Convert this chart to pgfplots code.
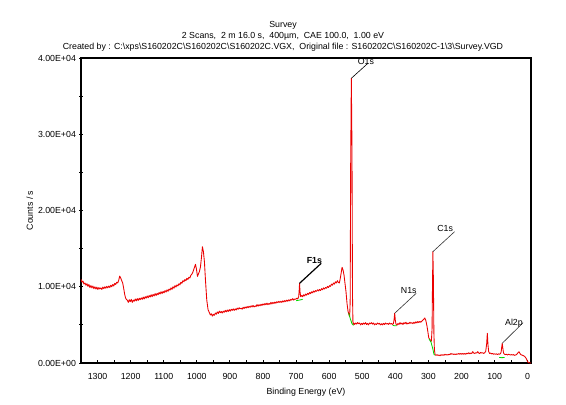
\documentclass[border=0pt]{standalone}
\usepackage{fontspec}
\setmainfont{Liberation Sans}
\usepackage{pgfplots}
\pgfplotsset{compat=1.18}
\definecolor{specred}{RGB}{235,0,0}
\definecolor{bggreen}{RGB}{0,215,0}
\newcommand{\sm}{\fontsize{6.6}{8}\selectfont}
\begin{document}
\begin{tikzpicture}
\begin{axis}[
  at={(0pt,0pt)}, anchor=south west,
  scale only axis, width=337.5pt, height=228.75pt,
  x dir=reverse, xmin=-10, xmax=1350, ymin=0, ymax=40000,
  axis line style={line width=0.85pt},
  every tick/.style={black, line width=0.6pt},
  major tick length=2.6pt, minor tick length=2.6pt,
  xtick align=inside, ytick align=center,
  tick pos=left,
  xtick={0,100,...,1300}, minor x tick num=1,
  ytick={0,10000,20000,30000,40000}, minor y tick num=1,
  yticklabels={0.00E+00,1.00E+04,2.00E+04,3.00E+04,4.00E+04},
  scaled y ticks=false, scaled x ticks=false,
  /pgf/number format/assume math mode=true,
  /pgf/number format/1000 sep={},
  tick label style={font=\sm},
  xticklabel style={anchor=base, yshift=-12.6pt},
  yticklabel style={anchor=east, inner sep=0pt, xshift=-2.3pt},
  clip=true,
]
\addplot[specred, line width=0.65pt, line join=round] coordinates {
(1350,10980)(1347,10600)(1344,10750)(1341,10350)(1338,10500)(1335,10200)(1332,10400)(1329,10050)
(1326,10300)(1323,9900)(1320,10150)(1317,9850)(1314,10100)(1311,9750)(1308,10000)(1305,9700)
(1302,9950)(1299,9650)(1296,9900)(1293,9700)(1290,9850)(1287,9650)(1284,9950)(1281,9750)
(1278,10000)(1275,9800)(1272,10050)(1269,9850)(1266,10100)(1263,9900)(1260,10200)(1257,10000)
(1254,10300)(1251,10100)(1248,10450)(1245,10300)(1242,10600)(1239,10500)(1236,10850)(1233,11400)
(1230,11150)(1227,10800)(1224,10500)(1221,9800)(1218,9000)(1215,8500)(1212,8300)
(1210,8250)(1207,7950)(1204,8300)(1201,8050)(1198,8350)(1195,7950)(1192,8250)(1189,8100)
(1186,8400)(1183,8150)(1180,8450)(1177,8200)(1174,8500)(1171,8300)(1168,8550)(1165,8350)
(1162,8650)(1159,8400)(1156,8700)(1153,8500)(1150,8800)(1147,8550)(1144,8850)(1141,8650)
(1138,8950)(1135,8700)(1132,9000)(1129,8800)(1126,9100)(1123,8850)(1120,9150)(1117,8950)
(1114,9250)(1111,9050)(1108,9350)(1105,9100)(1102,9400)(1099,9200)(1096,9500)(1093,9300)
(1090,9600)(1087,9400)(1084,9700)(1081,9550)(1078,9850)(1075,9650)(1072,10000)(1069,9800)
(1066,10150)(1063,9950)(1060,10250)(1057,10100)(1054,10400)(1051,10250)(1048,10600)(1045,10450)
(1042,10800)(1039,10650)(1036,10950)(1033,10800)(1030,11100)(1027,10950)(1024,11250)(1021,11150)
(1018,11500)(1015,11650)(1012,11900)(1009,12300)(1006,12700)(1004,12950)(1001,12300)(998,11350)
(995,11700)(992,12000)(989,12600)(986,13800)(983,15250)(980,14600)(977,13300)
(974,11000)(970,8300)(966,7000)(962,6600)(959,6300)(956,6450)(953,6150)(950,6400)(947,6250)
(944,6550)(941,6400)(938,6700)(935,6500)(932,6800)(929,6600)(926,6750)(923,6550)(920,6800)
(917,6650)(914,6900)(911,6700)(908,6950)(905,6750)(902,7000)(899,6800)(896,7050)(893,6900)
(890,7100)(887,6900)(884,7100)(881,6950)(878,7200)(875,7050)(872,7250)(869,7100)(866,7200)
(863,7050)(860,7300)(857,7150)(854,7350)(851,7200)(848,7400)(845,7250)(842,7450)(839,7300)
(836,7500)(833,7350)(830,7550)(827,7350)(824,7500)(821,7400)(818,7650)(815,7450)(812,7650)
(809,7500)(806,7700)(803,7550)(800,7750)(797,7600)(794,7800)(791,7650)(788,7850)(785,7650)
(782,7800)(779,7700)(776,7950)(773,7750)(770,7950)(767,7800)(764,8000)(761,7850)(758,8050)
(755,7900)(752,8100)(749,7950)(746,8100)(743,7950)(740,8150)(737,8000)(734,8200)(731,8050)
(728,8250)(725,8100)(722,8300)(719,8150)(716,8350)(713,8250)(710,8450)(707,8250)(704,8400)
(701,8350)(698,8500)(695,8400)(692,8700)(690.5,9600)(689.5,10450)(688,9300)(686,8700)
(683,8850)(680,8700)(677,8950)(674,8800)(671,9050)(668,8900)(665,9150)(662,9000)(659,9250)
(656,9100)(653,9350)(650,9200)(647,9450)(644,9300)(641,9500)(638,9400)(635,9600)(632,9450)
(629,9650)(626,9500)(623,9750)(620,9600)(617,9850)(614,9700)(611,9900)(608,9800)(605,10050)
(602,9900)(599,10150)(596,10050)(593,10350)(590,10200)(587,10500)(584,10350)(581,10650)
(578,10500)(575,10800)(572,10550)(569,10500)(566,11200)(563,12000)(561,12550)(558,12200)
(555,11500)(552,10400)(549,9300)(546,7800)(543,6800)(540,6300)(538,6100)(536.5,8000)(535,26000)
(533,37340)(531,28000)(529.5,9000)(528,5000)(526,5250)(523,5050)(520,5250)(517,5100)(514,5300)
(511,5150)(508,5250)(505,5000)(502,5200)(499,5050)(496,5250)(493,5100)(490,5300)(487,5050)
(484,5200)(481,5000)(478,5250)(475,5150)(472,5300)(469,5100)(466,5250)(463,5000)(460,5150)
(457,5050)(454,5250)(451,5100)(448,5200)(445,5000)(442,5150)(439,5000)(436,5200)(433,5050)
(430,5250)(427,5100)(424,5200)(421,5050)(418,5250)(415,5100)(412,5200)(409,5050)(406,5150)
(404,5600)(402,6520)(400,5600)(398,5100)(395,4950)(392,5200)(389,5050)(386,5300)(383,5100)
(380,5250)(377,5050)(374,5300)(371,5150)(368,5350)(365,5100)(362,5250)(359,5150)(356,5350)
(353,5200)(350,5300)(347,5150)(344,5350)(341,5200)(338,5400)(335,5250)(332,5450)(329,5300)
(326,5450)(323,5350)(320,5500)(317,5600)(314,5750)(311,5900)(308,5600)(305,5000)(302,4200)
(299,3300)(295,3050)(291,2850)(289,4500)(288,9000)(286.5,14600)(285,11000)(283.5,4000)(282,1800)
(280,1100)(277,1000)(274,1100)(271,1000)(268,1050)(265,950)(262,1100)(259,1000)(256,1100)
(253,1000)(250,1150)(247,1050)(244,1100)(241,1050)(238,1150)(235,1100)(232,1250)(229,1150)
(226,1200)(223,1100)(220,1200)(217,1100)(214,1200)(211,1150)(208,1250)(205,1150)(202,1250)
(199,1150)(196,1250)(193,1150)(190,1250)(187,1150)(184,1300)(181,1200)(178,1350)(175,1200)
(172,1300)(169,1250)(166,1500)(163,1300)(160,1250)(157,1350)(154,1300)(151,1500)(148,1300)
(145,1250)(142,1400)(139,1300)(136,1350)(133,1250)(130,1350)(127,1500)(124,2500)(122,3890)
(120,2400)(118,1500)(115,1250)(112,1300)(109,1200)(106,1250)(103,1150)(100,1200)(97,1150)
(94,1200)(91,1100)(88,1200)(85,1150)(82,1250)(80,1500)(79,1900)(77,2580)(75,1900)(73,1300)
(70,1150)(67,1100)(64,1150)(61,1050)(58,1150)(55,1100)(52,1050)(49,1100)(46,1050)(43,1100)
(40,1000)(37,1050)(34,1100)(31,1250)(28,1400)(26,1480)(24,1300)(21,1100)(18,1050)(15,1000)
(12,950)(9,850)(6,700)(3,450)(0,150)(-3,50)(-6,20)(-10,0)
};
% fitted backgrounds
\addplot[bggreen, line width=0.6pt] coordinates {(700,8170)(690,8250)(680,8350)};
\addplot[bggreen, line width=0.6pt] coordinates {(541,6550)(536,5800)(531,5150)(526,4950)};
\addplot[bggreen, line width=0.6pt] coordinates {(408,4950)(402,4880)(396,4900)};
\addplot[bggreen, line width=0.6pt] coordinates {(298,3150)(292,2700)(287,1900)(283,1100)(280,1050)};
\addplot[bggreen, line width=0.6pt] coordinates {(86,720)(78,700)(70,720)};
% peak labels
\draw[line width=0.9pt] (axis cs:689.5,10450) -- (axis cs:624,13075)
  node[anchor=base east, inner sep=0pt, xshift=1pt, font=\sm\bfseries] {F1s};
\draw[line width=0.45pt] (axis cs:533,37340) -- (axis cs:483,39300);
\node[anchor=base, inner sep=0pt, font=\sm] at (axis cs:489,39150) {O1s};
\draw[line width=0.45pt, black!80] (axis cs:402,6520) -- (axis cs:337,9140)
  node[anchor=base east, inner sep=0pt, xshift=0.5pt, font=\sm, black] {N1s};
\draw[line width=0.45pt, black!80] (axis cs:286.5,14600) -- (axis cs:221,17220)
  node[anchor=base east, inner sep=0pt, xshift=-1pt, font=\sm, black] {C1s};
\draw[line width=0.45pt, black!80] (axis cs:77,2580) -- (axis cs:14,5285)
  node[anchor=base east, inner sep=0pt, yshift=-2pt, font=\sm, black] {Al2p};
\end{axis}
% titles and axis labels
\node[anchor=base, inner sep=0pt, font=\sm] at (151.5pt,251.6pt) {Survey};
\node[anchor=base, inner sep=0pt, font=\sm] at (151.5pt,243.6pt) {2 Scans,\ \ 2 m 16.0 s,\ \ 400µm,\ \ CAE 100.0,\ \ 1.00 eV};
\node[anchor=base, inner sep=0pt, font=\sm] at (151.5pt,235.0pt) {Created by : C:\textbackslash xps\textbackslash S160202C\textbackslash S160202C\textbackslash S160202C.VGX,\ \ Original file : S160202C\textbackslash S160202C-1\textbackslash 3\textbackslash Survey.VGD};
\node[anchor=center, inner sep=0pt, font=\sm] at (168.75pt,-21.75pt) {Binding Energy (eV)};
\node[anchor=center, inner sep=0pt, rotate=90, font=\sm] at (-38.5pt,114.4pt) {Counts / s};
\pgfresetboundingbox
\path (-60.75pt,-30.75pt) rectangle (363.75pt,272.25pt);
\end{tikzpicture}
\end{document}
